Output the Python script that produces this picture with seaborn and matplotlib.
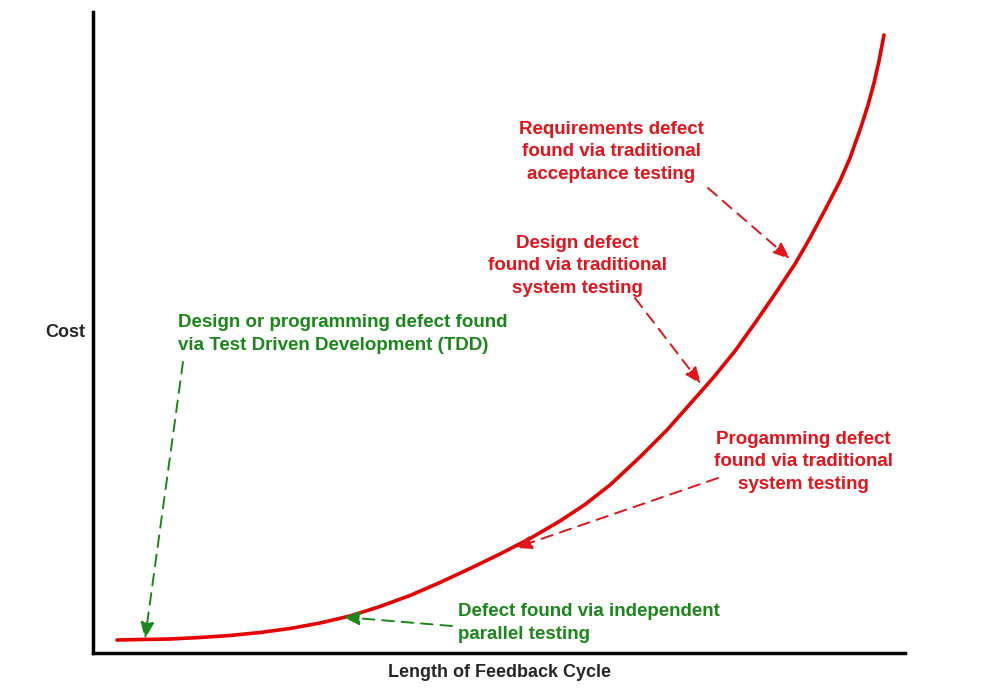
"""
Cost of defects vs. length of feedback cycle (TDD illustration)
"""
import numpy as np
import pandas as pd
import matplotlib
matplotlib.use("Agg")
import matplotlib.pyplot as plt
import seaborn as sns

# curve (x = feedback length, y = cost; arbitrary units)
cycle = [117, 140, 170, 200, 230, 260, 290, 320, 350, 380, 410, 440, 470,
         500, 530, 560, 585, 610, 640, 667, 690, 713, 735, 755, 775, 795,
         810, 825, 840, 850, 861, 868, 874, 879, 884]
cost = [53, 53.5, 54, 55.5, 57.5, 60.5, 64.5, 70, 77, 86.5, 97.5, 110.5, 124.5,
        139, 154.5, 172, 188.5, 208, 236, 263, 289, 315, 342, 370, 399, 429,
        455, 483, 512, 535, 566, 588, 610, 632, 658]

# annotations: text, text position, arrow start, arrow target
notes_red = [
    ("Requirements defect\nfound via traditional\nacceptance testing", (611, 541), (708, 505), (790, 434)),
    ("Design defect\nfound via traditional\nsystem testing", (577, 427), (635, 395), (701, 309)),
    ("Progamming defect\nfound via traditional\nsystem testing", (803, 231), (718, 215), (515, 145)),
]
notes_green = [
    ("Design or programming defect found\nvia Test Driven Development (TDD)", (178, 359), (183, 331), (145, 54)),
    ("Defect found via independent\nparallel testing", (458, 70), (452, 67), (343, 76)),
]

RED = "#e3141c"
GREEN = "#1b871b"

sns.set_style("white")
plt.rcParams["font.family"] = ["Liberation Sans", "DejaVu Sans"]

fig = plt.figure(figsize=(9.81, 6.93), dpi=100)
ax = fig.add_axes([93 / 981, 40 / 693, 812 / 981, 641 / 693])

df = pd.DataFrame({"cycle": cycle, "cost": cost})
sns.lineplot(data=df, x="cycle", y="cost", color="#e60000", lw=2.6, ax=ax)

ax.set_xlim(93, 905)
ax.set_ylim(40, 681)
ax.set_xticks([])
ax.set_yticks([])
for side in ["top", "right"]:
    ax.spines[side].set_visible(False)
for side in ["left", "bottom"]:
    ax.spines[side].set_linewidth(2.5)
    ax.spines[side].set_color("black")

arrow_kw = dict(arrowstyle="-|>,head_length=1.0,head_width=0.4",
                linestyle=(0, (6, 4)), lw=1.4, shrinkA=0, shrinkB=0)

for text, pos, start, end in notes_red:
    ax.text(pos[0], pos[1], text, color=RED, fontsize=13.5, fontweight="bold",
            ha="center", va="center", linespacing=1.4)
    ax.annotate("", xy=end, xytext=start,
                arrowprops=dict(color=RED, **arrow_kw))

for text, pos, start, end in notes_green:
    ax.text(pos[0], pos[1], text, color=GREEN, fontsize=13.5, fontweight="bold",
            ha="left", va="center", linespacing=1.4)
    ax.annotate("", xy=end, xytext=start,
                arrowprops=dict(color=GREEN, **arrow_kw))

ax.set_xlabel("Length of Feedback Cycle", fontsize=13, fontweight="bold", labelpad=8)
ax.set_ylabel("Cost", fontsize=13, fontweight="bold", rotation=0, labelpad=20, va="center")

fig.savefig("out.png", dpi=100)
